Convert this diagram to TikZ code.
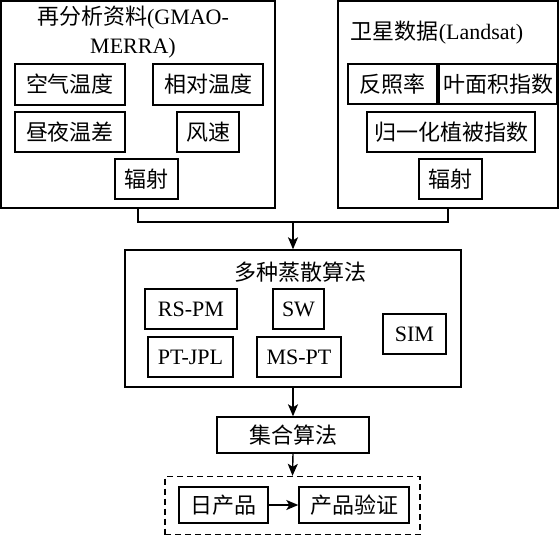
\documentclass[tikz,border=0pt]{standalone}
\usepackage{fontspec}
\setmainfont{Liberation Serif}
\newfontfamily\cjk{Noto Sans CJK SC}
\usetikzlibrary{arrows.meta}
\tikzset{
  bx/.style={draw, line width=1.4pt, inner sep=0pt, font=\fontsize{22}{25}\selectfont},
  grp/.style={draw, line width=1.4pt, inner sep=0pt},
  ttl/.style={inner sep=0pt, align=center, font=\fontsize{22}{29}\selectfont},
  cn/.style={line width=1.4pt},
  arr/.style={line width=1.4pt, -{Stealth[length=12pt,width=10pt,inset=3pt]}}
}
\begin{document}
\begin{tikzpicture}[x=1pt,y=-1pt]
\useasboundingbox (0,0) rectangle (560,536);
% left group
\node[grp, minimum width=274pt, minimum height=207pt] (L) at (138,104.5) {};
\node[ttl] (Lt) at (133,32.5) {{\cjk 再分析资料}(GMAO-\\MERRA)};
\node[bx, minimum width=110pt, minimum height=41pt] (l1) at (70,84.5) {\cjk 空气温度};
\node[bx, minimum width=110pt, minimum height=41pt] (l2) at (208,84.5) {\cjk 相对温度};
\node[bx, minimum width=110pt, minimum height=40pt] (l3) at (70,132) {\cjk 昼夜温差};
\node[bx, minimum width=62pt, minimum height=40pt] (l4) at (208,132) {\cjk 风速};
\node[bx, minimum width=63pt, minimum height=40pt] (l5) at (146.5,179) {\cjk 辐射};
% right group
\node[grp, minimum width=220pt, minimum height=207pt] (R) at (448,104.5) {};
\node[ttl] (Rt) at (437,33) {{\cjk 卫星数据}(Landsat)};
\node[bx, minimum width=89pt, minimum height=40pt] (r1) at (392.5,84) {\cjk 反照率};
\node[bx, minimum width=118pt, minimum height=40pt] (r2) at (498,84) {\cjk 叶面积指数};
\node[bx, minimum width=168pt, minimum height=40pt] (r3) at (451,132) {\cjk 归一化植被指数};
\node[bx, minimum width=63pt, minimum height=40pt] (r4) at (450.5,179) {\cjk 辐射};
% middle group
\node[grp, minimum width=336pt, minimum height=137pt] (M) at (293,318.5) {};
\node[ttl] (Mt) at (300,272) {\cjk 多种蒸散算法};
\node[bx, minimum width=92pt, minimum height=40pt] (m1) at (191,309) {RS-PM};
\node[bx, minimum width=51pt, minimum height=40pt] (m2) at (298.5,309) {SW};
\node[bx, minimum width=63pt, minimum height=40pt] (m3) at (414.5,334) {SIM};
\node[bx, minimum width=85pt, minimum height=40pt] (m4) at (190.5,357) {PT-JPL};
\node[bx, minimum width=84pt, minimum height=40pt] (m5) at (299,357) {MS-PT};
% ensemble
\node[bx, minimum width=152pt, minimum height=36pt] (E) at (293,435) {\cjk 集合算法};
% products
\node[grp, dashed, dash pattern=on 6pt off 4pt, minimum width=255pt, minimum height=58pt] (P) at (292.5,505.5) {};
\node[bx, minimum width=89pt, minimum height=36pt] (p1) at (223.5,505) {\cjk 日产品};
\node[bx, minimum width=110pt, minimum height=36pt] (p2) at (354,505) {\cjk 产品验证};
% connectors
\coordinate (j) at (293,222);
\draw[cn] (L.south) |- (j) -| (R.south);
\draw[arr] (j) -- (M.north);
\draw[arr] (M.south) -- (E.north);
\draw[arr] (E.south) -- (P.north);
\draw[arr] (p1.east) -- (p2.west);
\end{tikzpicture}
\end{document}
